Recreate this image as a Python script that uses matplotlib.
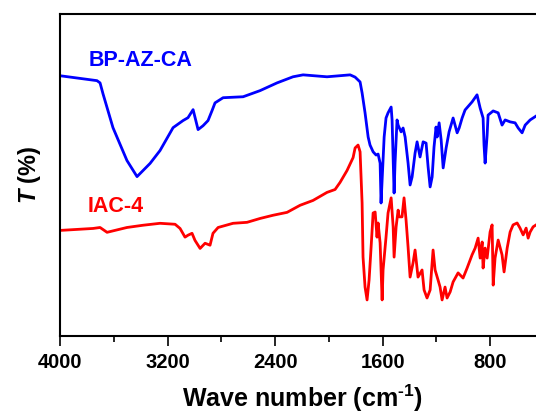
import matplotlib
matplotlib.use("Agg")
import matplotlib.pyplot as plt
from matplotlib.ticker import FixedLocator

plt.rcParams['font.family'] = ['Liberation Sans', 'DejaVu Sans']
plt.rcParams['font.weight'] = 'bold'
plt.rcParams['mathtext.fontset'] = 'custom'
plt.rcParams['mathtext.rm'] = 'Liberation Sans:bold'
plt.rcParams['mathtext.bf'] = 'Liberation Sans:bold'
plt.rcParams['mathtext.it'] = 'Liberation Sans:italic:bold'

# BP-AZ-CA spectrum (wavenumber cm-1, transmittance a.u.)
blue_w = [3995, 3725, 3702, 3680, 3606, 3502, 3427, 3330, 3256, 3159, 3085, 3048, 3010,
          2973, 2936, 2899, 2869, 2847, 2787, 2638, 2512, 2386, 2267, 2192, 2014, 1842,
          1805, 1768, 1753, 1731, 1708, 1694, 1671, 1649, 1634, 1619, 1612, 1604, 1589,
          1575, 1560, 1537, 1530, 1515, 1508, 1493, 1485, 1463, 1448, 1433, 1411, 1396,
          1381, 1359, 1344, 1322, 1299, 1277, 1262, 1247, 1232, 1218, 1203, 1195, 1180,
          1165, 1150, 1128, 1106, 1076, 1046, 1031, 1009, 987, 935, 898, 875, 853, 846,
          838, 823, 816, 778, 741, 712, 689, 652, 615, 592, 563, 540, 503, 459]
blue_t = [80.8, 79.3, 78.6, 75.2, 64.7, 54.5, 49.5, 53.6, 57.6, 64.7, 66.9, 67.8, 70.3,
          64.1, 65.3, 66.9, 70.0, 72.4, 74.0, 74.3, 76.2, 78.6, 80.5, 81.1, 80.5, 81.1,
          80.4, 78.9, 75.5, 69.3, 61.8, 59.3, 57.2, 56.2, 56.5, 53.7, 41.3, 48.5, 61.8,
          67.7, 69.3, 71.1, 67.1, 44.4, 53.7, 67.1, 65.5, 63.4, 64.6, 61.8, 53.7, 46.9,
          49.4, 56.8, 60.3, 55.6, 60.3, 59.9, 52.5, 46.3, 49.4, 58.7, 64.9, 61.8, 66.2,
          60.9, 52.2, 58.4, 63.4, 67.7, 63.1, 64.6, 67.7, 70.2, 72.7, 74.9, 70.8, 67.7, 59.3,
          53.7, 62.4, 68.6, 69.9, 69.3, 65.5, 67.1, 66.5, 66.2, 64.6, 63.1, 65.5, 67.1, 68.3]

# IAC-4 spectrum
red_w = [3995, 3754, 3702, 3650, 3502, 3382, 3256, 3144, 3107, 3070, 3048, 3018, 2996,
         2958, 2921, 2884, 2862, 2824, 2713, 2609, 2512, 2415, 2311, 2214, 2118, 2014,
         1954, 1917, 1865, 1820, 1805, 1783, 1768, 1753, 1746, 1731, 1716, 1701, 1686,
         1671, 1656, 1642, 1634, 1619, 1604, 1597, 1575, 1560, 1537, 1522, 1515, 1500,
         1485, 1478, 1456, 1441, 1426, 1411, 1396, 1374, 1359, 1337, 1307, 1292, 1270,
         1247, 1225, 1210, 1188, 1173, 1158, 1136, 1121, 1098, 1076, 1039, 1002, 972,
         935, 912, 890, 875, 860, 853, 838, 823, 801, 786, 778, 764, 741, 712, 697, 674,
         652, 630, 600, 578, 555, 533, 518, 503, 481, 459]
red_t = [32.8, 33.4, 33.7, 32.2, 33.7, 34.4, 35.0, 34.7, 33.4, 30.7, 31.3, 31.9, 29.7,
         27.2, 28.8, 28.2, 31.9, 33.7, 35.0, 35.3, 36.5, 37.5, 38.4, 40.6, 42.1, 44.6,
         45.5, 47.7, 51.4, 55.4, 58.4, 59.3, 57.2, 41.3, 24.5, 15.2, 11.2, 17.4, 27.6,
         38.2, 38.5, 30.7, 35.1, 28.9, 11.2, 20.5, 30.7, 38.2, 42.9, 33.9, 24.5, 33.9,
         39.1, 37.0, 37.0, 42.9, 36.0, 27.6, 18.3, 22.7, 26.7, 18.3, 20.5, 14.3, 11.8,
         14.3, 26.7, 20.5, 17.4, 15.2, 11.2, 15.2, 11.8, 13.7, 16.8, 19.6, 18.0, 21.1,
         25.2, 27.3, 30.4, 24.2, 29.2, 21.1, 27.3, 24.2, 32.3, 34.5, 15.8, 24.2, 29.8,
         25.2, 19.9, 27.3, 32.3, 34.5, 35.1, 33.5, 31.4, 33.5, 30.4, 32.3, 33.9, 34.5]

series_names = ["BP-AZ-CA", "IAC-4"]
major_ticks = [4000, 3200, 2400, 1600, 800]
minor_ticks = [3600, 2800, 2000, 1200, 400]

fig = plt.figure(figsize=(5.36, 4.15), dpi=100)
ax = fig.add_axes([60 / 536, 79 / 415, 484 / 536, 322 / 415])

ax.plot(blue_w, blue_t, color='#0000FF', lw=2.0)
ax.plot(red_w, red_t, color='#FF0000', lw=2.0)

ax.set_xlim(4000, 400)
ax.set_ylim(0, 100)

ax.text(3784, 85.7, series_names[0], color='#0000FF', fontsize=15.5,
        fontweight='bold', va='center', ha='left')
ax.text(3792, 40.1, series_names[1], color='#FF0000', fontsize=15.5,
        fontweight='bold', va='center', ha='left')

ax.xaxis.set_major_locator(FixedLocator(major_ticks))
ax.xaxis.set_minor_locator(FixedLocator(minor_ticks))
ax.set_xticklabels([str(t) for t in major_ticks])
ax.set_yticks([])
ax.tick_params(axis='x', which='major', direction='out', length=7, width=1.2,
               labelsize=14.5, pad=5)
ax.tick_params(axis='x', which='minor', direction='out', length=4, width=1.2)
for lbl in ax.get_xticklabels():
    lbl.set_fontweight('bold')

for s in ax.spines.values():
    s.set_linewidth(1.5)

ax.set_xlabel(r"Wave number (cm$^{\text{-}1}$)", fontsize=18, fontweight='bold',
              labelpad=8)
ax.set_ylabel(r"$\mathit{T}$ (%)", fontsize=17, fontweight='bold', labelpad=12)

fig.savefig("out.png", dpi=100)
